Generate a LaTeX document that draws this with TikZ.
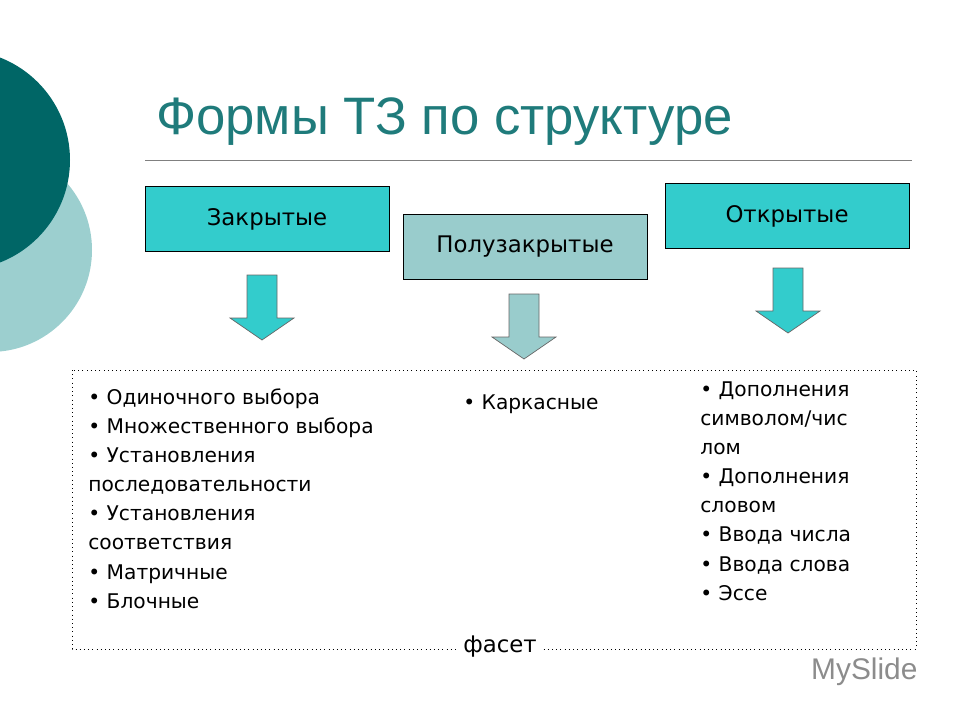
\documentclass[tikz,border=0pt]{standalone}
\usepackage{fontspec}
\setmainfont{DejaVu Sans}
\newfontfamily\titlefont{Liberation Sans}
\definecolor{darkteal}{HTML}{006666}
\definecolor{lightteal}{HTML}{9CCFCF}
\definecolor{titleteal}{HTML}{1F7B7B}
\definecolor{boxcyan}{HTML}{33CCCC}
\definecolor{boxgray}{HTML}{99CCCC}
\tikzset{
  formbox/.style={draw=black, minimum width=4.88cm, minimum height=1.3cm, font=\fontsize{13}{15}\selectfont},
  formlist/.style={anchor=north west, align=left, inner sep=0pt, font=\fontsize{11.5}{16.6}\selectfont},
  downarrow/.pic={\path[pic actions] (-15,0) -- (15,0) -- (15,43) -- (32,43) -- (0,65) -- (-32,43) -- (-15,43) -- cycle;}
}
\begin{document}
\begin{tikzpicture}[x=0.02cm, y=-0.02cm]
    \useasboundingbox (0,0) rectangle (960,720);

    % background circles
    \fill[lightteal] (-10,250) circle (102);
    \fill[darkteal] (-40,160) circle (110);

    \node[anchor=west, text=titleteal, font=\titlefont\fontsize{30}{34}\selectfont] (title) at (150,122) {Формы ТЗ по структуре};
    \draw[gray] (145,160) -- (912,160);

    \node[formbox, fill=boxcyan] (closed) at (267,219) {Закрытые};
    \node[formbox, fill=boxgray] (half) at (525,247) {Полузакрытые};
    \node[formbox, fill=boxcyan] (open) at (787,216) {Открытые};

    \pic[draw=black!60, fill=boxcyan] at (262,275) {downarrow};
    \pic[draw=black!60, fill=boxgray] at (524,294) {downarrow};
    \pic[draw=black!60, fill=boxcyan] at (788,268) {downarrow};

    \draw[dotted] (72,370) rectangle (916,649);
    \node[fill=white, font=\fontsize{13}{15}\selectfont] (facet) at (500,647) {фасет};

    \node[formlist] (closedlist) at (88,388) {• Одиночного выбора\\• Множественного выбора\\• Установления\\последовательности\\• Установления\\соответствия\\• Матричные\\• Блочные};
    \node[formlist] (halflist) at (463,394) {• Каркасные};
    \node[formlist] (openlist) at (700,381) {• Дополнения\\символом/чис\\лом\\• Дополнения\\словом\\• Ввода числа\\• Ввода слова\\• Эссе};

    \node[anchor=west, text=black!45, font=\titlefont\fontsize{17}{19}\selectfont] (logo) at (805,672) {MySlide};
\end{tikzpicture}
\end{document}
